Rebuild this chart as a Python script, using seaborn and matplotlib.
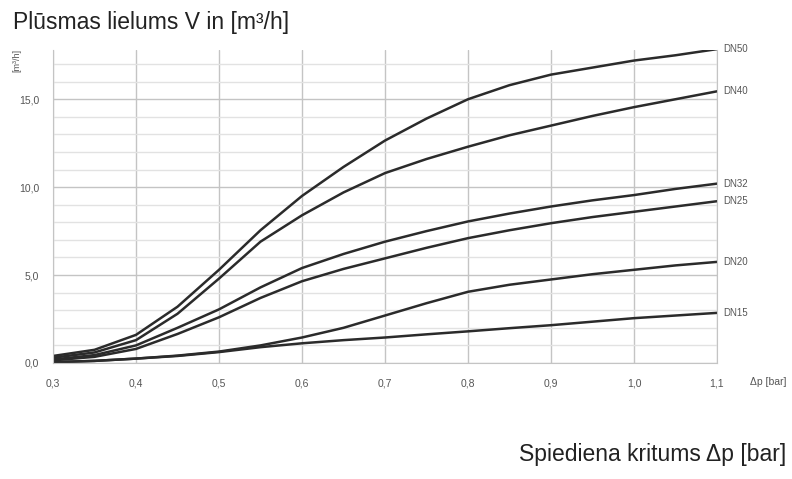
import numpy as np
import pandas as pd
import seaborn as sns
import matplotlib.pyplot as plt
from matplotlib.ticker import MultipleLocator, FuncFormatter

# pressure drop [bar]
dp = [0.30, 0.35, 0.40, 0.45, 0.50, 0.55, 0.60, 0.65, 0.70, 0.75, 0.80,
      0.85, 0.90, 0.95, 1.00, 1.05, 1.10]

# flow rate [m3/h] per valve size
dn50 = [0.4, 0.75, 1.6, 3.2, 5.3, 7.55, 9.5, 11.15, 12.65, 13.9, 15.0,
        15.8, 16.4, 16.8, 17.2, 17.5, 17.85]
dn40 = [0.3, 0.6, 1.3, 2.8, 4.8, 6.9, 8.4, 9.7, 10.8, 11.6, 12.3,
        12.95, 13.5, 14.05, 14.55, 15.0, 15.45]
dn32 = [0.2, 0.45, 1.0, 2.0, 3.05, 4.3, 5.4, 6.2, 6.9, 7.5, 8.05,
        8.5, 8.9, 9.25, 9.55, 9.9, 10.2]
dn25 = [0.15, 0.35, 0.8, 1.65, 2.6, 3.7, 4.65, 5.35, 5.95, 6.55, 7.1,
        7.55, 7.95, 8.3, 8.6, 8.9, 9.2]
dn20 = [0.05, 0.12, 0.25, 0.42, 0.65, 1.0, 1.45, 2.0, 2.7, 3.4, 4.05,
        4.45, 4.75, 5.05, 5.3, 5.55, 5.75]
dn15 = [0.05, 0.12, 0.25, 0.4, 0.62, 0.9, 1.12, 1.3, 1.45, 1.63, 1.8,
        1.98, 2.15, 2.35, 2.55, 2.7, 2.85]

sizes = ["DN50", "DN40", "DN32", "DN25", "DN20", "DN15"]
series = [dn50, dn40, dn32, dn25, dn20, dn15]

df = pd.concat([pd.DataFrame({"dp": dp, "flow": s, "size": n})
                for n, s in zip(sizes, series)])

sns.set_style("white")
plt.rcParams["font.family"] = ["Liberation Sans", "DejaVu Sans"]

fig = plt.figure(figsize=(7.92, 4.79), dpi=100)
ax = fig.add_axes([53 / 792, 1 - 363 / 479, (717 - 53) / 792, (363 - 50) / 479])

sns.lineplot(data=df, x="dp", y="flow", hue="size",
             palette=["#2b2b2b"] * len(sizes), legend=False,
             linewidth=1.8, ax=ax)

ax.set_xlim(0.3, 1.1)
ax.set_ylim(0, 17.8)
ax.xaxis.set_major_locator(MultipleLocator(0.1))
ax.xaxis.set_minor_locator(MultipleLocator(0.02))
ax.yaxis.set_major_locator(MultipleLocator(5))
ax.yaxis.set_minor_locator(MultipleLocator(1))
ax.xaxis.set_major_formatter(FuncFormatter(lambda v, p: f"{v:.1f}".replace(".", ",")))
ax.yaxis.set_major_formatter(FuncFormatter(lambda v, p: f"{v:.1f}".replace(".", ",")))

ax.grid(which="major", color="#c4c4c4", linewidth=1.0)
ax.grid(which="minor", axis="y", color="#e2e2e2", linewidth=1.0)
ax.tick_params(axis="both", which="major", labelsize=7.5, labelcolor="#555555",
               length=0)
ax.tick_params(axis="y", which="major", pad=10)
ax.tick_params(axis="x", which="major", pad=11)
ax.tick_params(axis="x", which="minor", length=3, color="#c4c4c4", direction="in")
ax.set_xlabel("")
ax.set_ylabel("")
for side in ["left", "right", "bottom"]:
    ax.spines[side].set_color("#c4c4c4")
ax.spines["top"].set_visible(False)

# curve labels at the right end
for n, s in zip(sizes, series):
    ax.text(1.107, s[-1], n, fontsize=7, color="#555555", va="center",
            ha="left", clip_on=False)

ax.text(1.14, -1.1, "Δp [bar]", fontsize=7.5, color="#555555", va="center",
        ha="left", clip_on=False)
fig.text(17 / 792, 1 - 60 / 479, "[m³/h]", rotation=90, fontsize=6.5,
         color="#555555", ha="center", va="center")

fig.text(13 / 792, 1 - 22 / 479, "Plūsmas lielums V in [m³/h]", fontsize=16.5,
         color="#222222", ha="left", va="center")
fig.text(786 / 792, 1 - 455 / 479, "Spiediena kritums Δp [bar]", fontsize=16.5,
         color="#222222", ha="right", va="center")

fig.savefig("out.png", dpi=100)
